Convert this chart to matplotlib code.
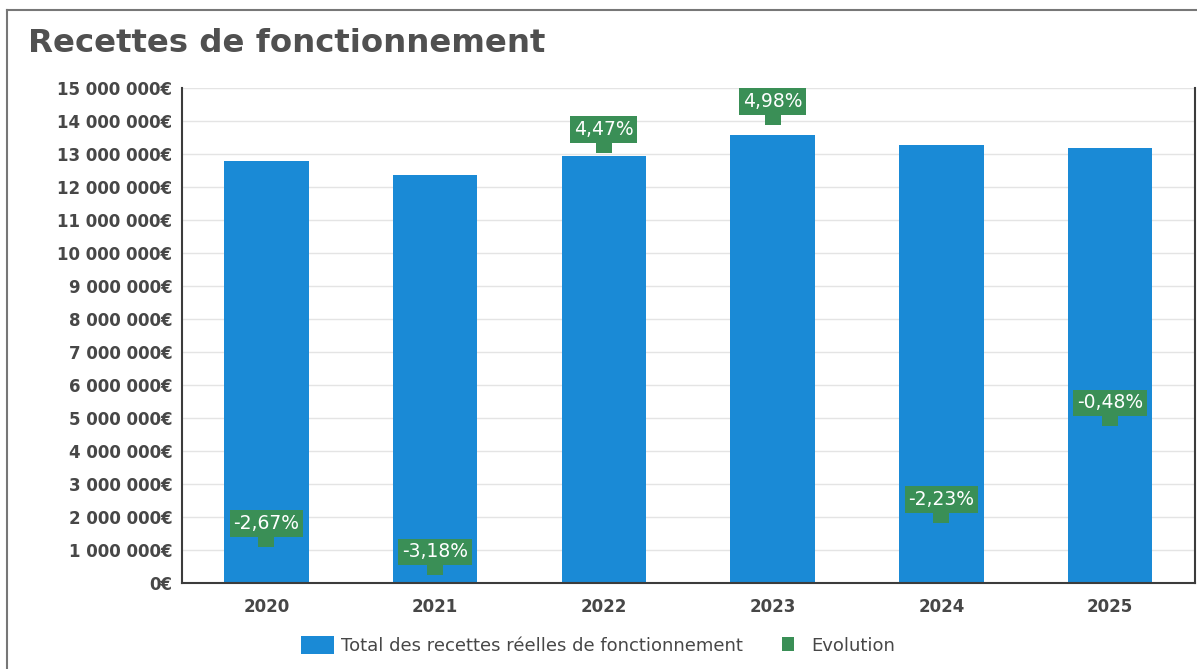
import matplotlib.pyplot as plt
from matplotlib.lines import Line2D
from matplotlib.patches import Patch
from matplotlib.ticker import FuncFormatter, MultipleLocator

years = ["2020", "2021", "2022", "2023", "2024", "2025"]
recettes = [12_790_000, 12_360_000, 12_940_000, 13_580_000, 13_270_000, 13_180_000]
evolution = [-2.67, -3.18, 4.47, 4.98, -2.23, -0.48]

bleu = "#1a8ad6"
vert = "#3a8f56"
gris = "#474747"

# flat tab under each label, and a small upright block for the legend
tab = [(-0.8, -0.5), (0.8, -0.5), (0.8, 0.5), (-0.8, 0.5), (-0.8, -0.5)]
bloc = [(-0.42, -0.5), (0.42, -0.5), (0.42, 0.5), (-0.42, 0.5), (-0.42, -0.5)]


def euros(v, pos):
    return "{:,.0f}€".format(v).replace(",", " ")


def pct(v):
    return "{:.2f}%".format(v).replace(".", ",")


fig = plt.figure(figsize=(11.97, 6.69), dpi=100)
ax = fig.add_axes([0.152, 0.1285, 0.846, 0.74])

x = list(range(len(years)))
ax.bar(x, recettes, width=0.5, color=bleu, zorder=2)

ax.set_xlim(-0.5, len(years) - 0.5)
ax.set_ylim(0, 15_000_000)
ax.yaxis.set_major_locator(MultipleLocator(1_000_000))
ax.yaxis.set_major_formatter(FuncFormatter(euros))
ax.set_xticks(x)
ax.set_xticklabels(years)
ax.grid(axis="y", color="#e4e4e4", linewidth=1, zorder=0)
ax.tick_params(axis="both", length=0, labelsize=12, labelcolor=gris)
ax.tick_params(axis="y", pad=7)
ax.tick_params(axis="x", pad=11)
for lab in ax.get_xticklabels() + ax.get_yticklabels():
    lab.set_fontweight("bold")
ax.spines["top"].set_visible(False)
for side in ["left", "bottom", "right"]:
    ax.spines[side].set_color("#3c3c3c")
    ax.spines[side].set_linewidth(1.5)

# evolution on a hidden secondary scale
ax2 = ax.twinx()
ax2.set_ylim(-3.41, 5.56)
ax2.axis("off")
ax2.plot(x, evolution, linestyle="none", marker=tab, markersize=11.5,
         markeredgewidth=0, color=vert, zorder=4)
for xi, ev in zip(x, evolution):
    ax2.annotate(pct(ev), (xi, ev), xytext=(0, 6.5), textcoords="offset points",
                 ha="center", va="bottom", color="white", fontsize=13.5,
                 bbox=dict(boxstyle="square,pad=0.2", fc=vert, ec="none"),
                 zorder=5)

fig.text(0.023, 0.935, "Recettes de fonctionnement", fontsize=23.3,
         fontweight="bold", color="#505050", va="center")

# outer frame
fig.add_artist(Line2D([0.006, 1.0], [0.985, 0.985], color="#777777", lw=1.5))
fig.add_artist(Line2D([0.006, 0.006], [0.0, 0.985], color="#777777", lw=1.5))

handles = [
    Patch(facecolor=bleu, edgecolor="none", label="Total des recettes réelles de fonctionnement"),
    Line2D([], [], linestyle="none", marker=bloc, markersize=10,
           markeredgewidth=0, color=vert, label="Evolution"),
]
fig.legend(handles=handles, loc="center", bbox_to_anchor=(0.5, 0.035), ncol=2,
           frameon=False, fontsize=13, handlelength=1.8, handleheight=1.15,
           handletextpad=0.4, columnspacing=1.6, labelcolor=gris)

fig.savefig("out.png", dpi=100)
